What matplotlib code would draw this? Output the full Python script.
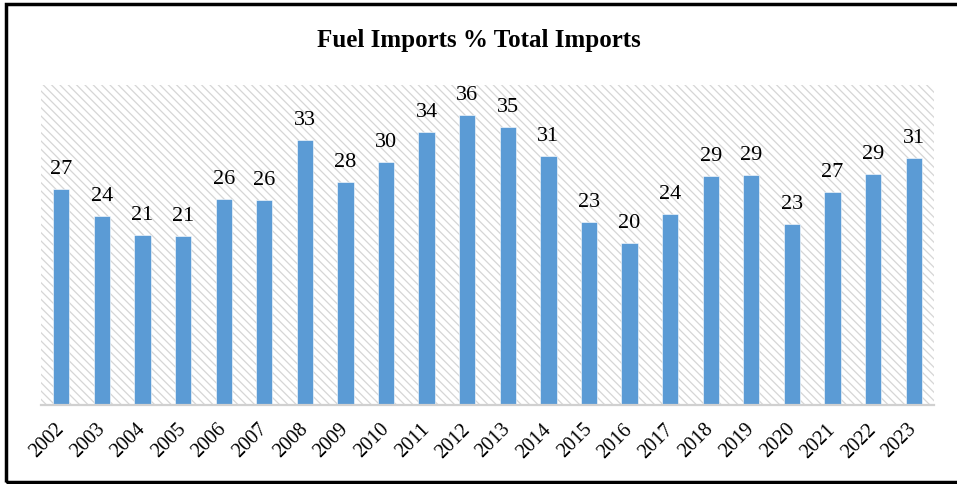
import matplotlib
matplotlib.use('Agg')
import matplotlib.pyplot as plt
from matplotlib.patches import Rectangle

years = ['2002', '2003', '2004', '2005', '2006', '2007', '2008', '2009', '2010', '2011', '2012',
         '2013', '2014', '2015', '2016', '2017', '2018', '2019', '2020', '2021', '2022', '2023']
fuel_share = [27.0, 23.6, 21.3, 21.1, 25.7, 25.6, 33.1, 27.9, 30.4, 34.1, 36.3,
              34.8, 31.1, 22.9, 20.3, 23.9, 28.6, 28.8, 22.6, 26.6, 28.9, 30.9]

plt.rcParams['font.family'] = ['Liberation Serif', 'DejaVu Serif']
plt.rcParams['hatch.linewidth'] = 0.9

W, H = 957, 485
fig = plt.figure(figsize=(W / 100, H / 100), dpi=100)
ax = fig.add_axes([41 / W, 1 - 406 / H, (934 - 41) / W, (406 - 86) / H])

# hatched plot area background
bg = Rectangle((0, 0), 1, 1, transform=ax.transAxes, facecolor='white',
               edgecolor='#d6d6d6', hatch='\\\\\\\\', linewidth=0, zorder=0)
ax.add_patch(bg)

x = range(len(years))
bars = ax.bar(x, fuel_share, width=0.4, color='#5b9bd5', edgecolor='white',
              linewidth=0.4, zorder=2)

for rect, v in zip(bars, fuel_share):
    ax.annotate(f'{round(v)}', (rect.get_x() + rect.get_width() / 2, rect.get_height()),
                xytext=(0, 11.5), textcoords='offset points', ha='center', va='baseline',
                fontsize=16, color='black')

ax.set_xlim(-0.5, len(years) - 0.5)
ax.set_ylim(0, 40)
ax.set_yticks([])
ax.set_xticks(list(x))
ax.set_xticklabels(years, rotation=45, ha='right', va='center', rotation_mode='anchor',
                   fontsize=14.5)
ax.tick_params(axis='x', length=0, pad=15)
for s in ['top', 'right', 'left']:
    ax.spines[s].set_visible(False)
ax.spines['bottom'].set_color('#d0d0d0')
ax.spines['bottom'].set_linewidth(1.6)
ax.spines['bottom'].set_zorder(3)
ax.set_facecolor('none')

fig.text(0.5, 1 - 41 / H, 'Fuel Imports % Total Imports', ha='center', va='center',
         fontsize=18, fontweight='bold')

# outer frame (right edge runs off the picture)
frame = Rectangle((5.5 / W, 2.5 / H), 1.2, 1 - 7.5 / H, transform=fig.transFigure,
                  fill=False, edgecolor='black', linewidth=2.5)
fig.patches.append(frame)

fig.savefig('out.png', dpi=100)
